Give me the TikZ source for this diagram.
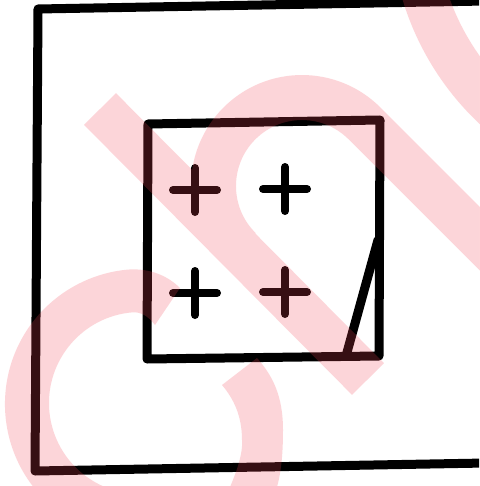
\documentclass[tikz,border=0pt]{standalone}
\definecolor{wm}{RGB}{246,71,85}
\begin{document}
\begin{tikzpicture}[x=1pt,y=-1pt,
  ink/.style={line width=9pt,line cap=round,line join=round,black},
  plusink/.style={line width=8pt,line cap=round,black},
  wmband/.style={wm,line width=45pt,line cap=butt,line join=round}]
\useasboundingbox (0,0) rectangle (479,486);
\clip (0,0) rectangle (479,486);
\fill[white] (0,0) rectangle (479,486);
% outer frame
\coordinate (oTR) at (486,1);
\coordinate (oTL) at (38,9);
\coordinate (oBL) at (35,471);
\coordinate (oBR) at (486,463);
\draw[ink] (oTR) -- (oTL) -- (oBL) -- (oBR);
% inner square
\coordinate (iTL) at (148,124);
\coordinate (iTR) at (380,120);
\coordinate (iBR) at (379,356);
\coordinate (iBL) at (147,359);
\draw[ink] (iTL) -- (iTR) -- (iBR) -- (iBL) -- cycle;
% corner stroke
\coordinate (dA) at (346,356);
\coordinate (dB) at (378,240);
\draw[ink] (dA) -- (dB);
% plus signs
\foreach \cx/\cy [count=\i] in {195/190, 285/189, 195/293, 285/292}{
  \coordinate (p\i) at (\cx,\cy);
  \draw[plusink] ([xshift=-22pt]p\i) -- ([xshift=22pt]p\i);
  \draw[plusink] ([yshift=-22pt]p\i) -- ([yshift=22pt]p\i);
}
% watermark
\begin{scope}[transparency group, opacity=0.224]
  % C ring
  \fill[wm] (44.5,499.5) arc[start angle=135, end angle=265, radius=135]
    .. controls (150,268) and (168,276) .. (180,288) -- (155,325)
    .. controls (148,316) and (141,312) .. (133,312.3)
    arc[start angle=265.6, end angle=105, radius=91] -- cycle;
  % C lower terminal
  \fill[wm] (257,358) .. controls (272,375) and (283,395) .. (283,430)
    .. controls (283,455) and (281,478) .. (274,496) -- (226,496)
    .. controls (238,470) and (243,452) .. (242,440)
    .. controls (242,415) and (233,398) .. (222,385) -- cycle;
  % stem
  \draw[wmband] (100,109) -- (368,379);
  % arch and second stem
  \draw[wmband] (239.4,248.6) arc[start angle=135, end angle=315, radius=88.5] -- ++(200,200);
  % top right arc
  \draw[wmband] ([shift={(130:260)}]673,-82) arc[start angle=130, end angle=178, radius=260];
\end{scope}
\end{tikzpicture}
\end{document}
